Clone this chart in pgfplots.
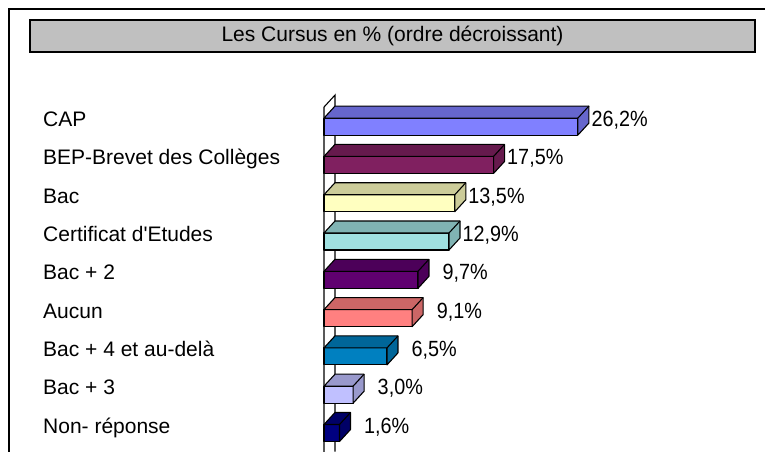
\documentclass[border=0pt]{standalone}
\usepackage{pgfplots}
\pgfplotsset{compat=1.18}
\usepackage{fontspec}
\setmainfont{Liberation Sans}
\newfontfamily\valfont{Liberation Sans}[FakeStretch=0.9]
\definecolor{titlegray}{HTML}{C0C0C0}
\definecolor{capF}{HTML}{8080FF}\definecolor{capT}{HTML}{6666CC}
\definecolor{bepF}{HTML}{802060}\definecolor{bepT}{HTML}{661A4D}
\definecolor{bacF}{HTML}{FFFFC0}\definecolor{bacT}{HTML}{CCCC99}
\definecolor{cerF}{HTML}{A0E0E0}\definecolor{cerT}{HTML}{80B3B3}
\definecolor{bdeuxF}{HTML}{600070}\definecolor{bdeuxT}{HTML}{4C0059}
\definecolor{aucF}{HTML}{FF8080}\definecolor{aucT}{HTML}{CC6666}
\definecolor{bquatF}{HTML}{0080C0}\definecolor{bquatT}{HTML}{006699}
\definecolor{btroisF}{HTML}{C0C0FF}\definecolor{btroisT}{HTML}{9999CC}
\definecolor{nonF}{HTML}{000080}\definecolor{nonT}{HTML}{000066}
\pgfplotsset{
  box3d/.style 2 args={
    only marks, scatter, mark=*, mark size=0pt,
    mark options={draw=none,fill=none},
    visualization depends on={x \as \xv},
    scatter/@pre marker code/.code={%
      \pgfmathsetmacro\L{\xv*9.69}%
      \filldraw[fill=#1, draw=black, line width=1.1bp, line join=round]
        (-\L bp,-8.5bp) rectangle (0bp,8.5bp);
      \filldraw[fill=#2, draw=black, line width=1.1bp, line join=round]
        (-\L bp,8.5bp) -- ++(11bp,12bp) -- (11bp,20.5bp) -- (11bp,3.5bp)
        -- (0bp,-8.5bp) -- (0bp,8.5bp) -- cycle;
      \draw[black, line width=1.1bp, line join=round] (0bp,8.5bp) -- (11bp,20.5bp);
      \node[anchor=base east, inner sep=0pt, text=black, font=\valfont\fontsize{22bp}{26bp}\selectfont] at (70bp,0bp)
        {\pgfmathprintnumber[fixed,fixed zerofill,precision=1,use comma,assume math mode=true]{\xv}\%};
    },
    scatter/@post marker code/.code={},
  }
}
\begin{document}
\fontsize{21bp}{25bp}\selectfont
\begin{tikzpicture}
\useasboundingbox (0,0) rectangle (765bp,452bp);
\draw[line width=2bp] (9bp,-20bp) -- (9bp,443bp) -- (790bp,443bp);
\node[draw=black, line width=1.3bp, fill=titlegray, minimum width=725bp, minimum height=32bp, inner sep=0pt] at (392.5bp,416bp) {Les Cursus en \% (ordre décroissant)};
\begin{axis}[
  x=9.69bp, y=38.3bp,
  xmin=0, xmax=30, ymin=-0.5, ymax=8.5,
  anchor=south west, at={(324bp,-0.15bp)},
  clip=false,
  axis line style={draw=none}, tick style={draw=none},
  xtick=\empty, ytick={0,1,2,3,4,5,6,7,8},
  yticklabels={Non- réponse, Bac + 3, Bac + 4 et au-delà, Aucun, Bac + 2, Certificat d\textquotesingle Etudes, Bac, BEP-Brevet des Collèges, CAP},
  yticklabel style={anchor=base west, xshift=-281bp, yshift=0bp, inner sep=0pt, text=black},
  point meta=x, point meta min=0, point meta max=30,
  /pgf/number format/assume math mode=true,
]
\fill[white] (axis cs:0,-0.8) -- (axis cs:0,8.51) -- ++(11bp,12bp) -- ([xshift=11bp,yshift=12bp]axis cs:0,-0.8) -- cycle;
\draw[line width=1.1bp] (axis cs:0,-0.8) -- (axis cs:0,8.51) -- ++(11bp,12bp) -- ([xshift=11bp,yshift=12bp]axis cs:0,-0.8);
\addplot[box3d={capF}{capT}] coordinates {(26.2,8)};
\addplot[box3d={bepF}{bepT}] coordinates {(17.5,7)};
\addplot[box3d={bacF}{bacT}] coordinates {(13.5,6)};
\addplot[box3d={cerF}{cerT}] coordinates {(12.9,5)};
\addplot[box3d={bdeuxF}{bdeuxT}] coordinates {(9.7,4)};
\addplot[box3d={aucF}{aucT}] coordinates {(9.1,3)};
\addplot[box3d={bquatF}{bquatT}] coordinates {(6.5,2)};
\addplot[box3d={btroisF}{btroisT}] coordinates {(3.0,1)};
\addplot[box3d={nonF}{nonT}] coordinates {(1.6,0)};
\end{axis}
\end{tikzpicture}
\end{document}
